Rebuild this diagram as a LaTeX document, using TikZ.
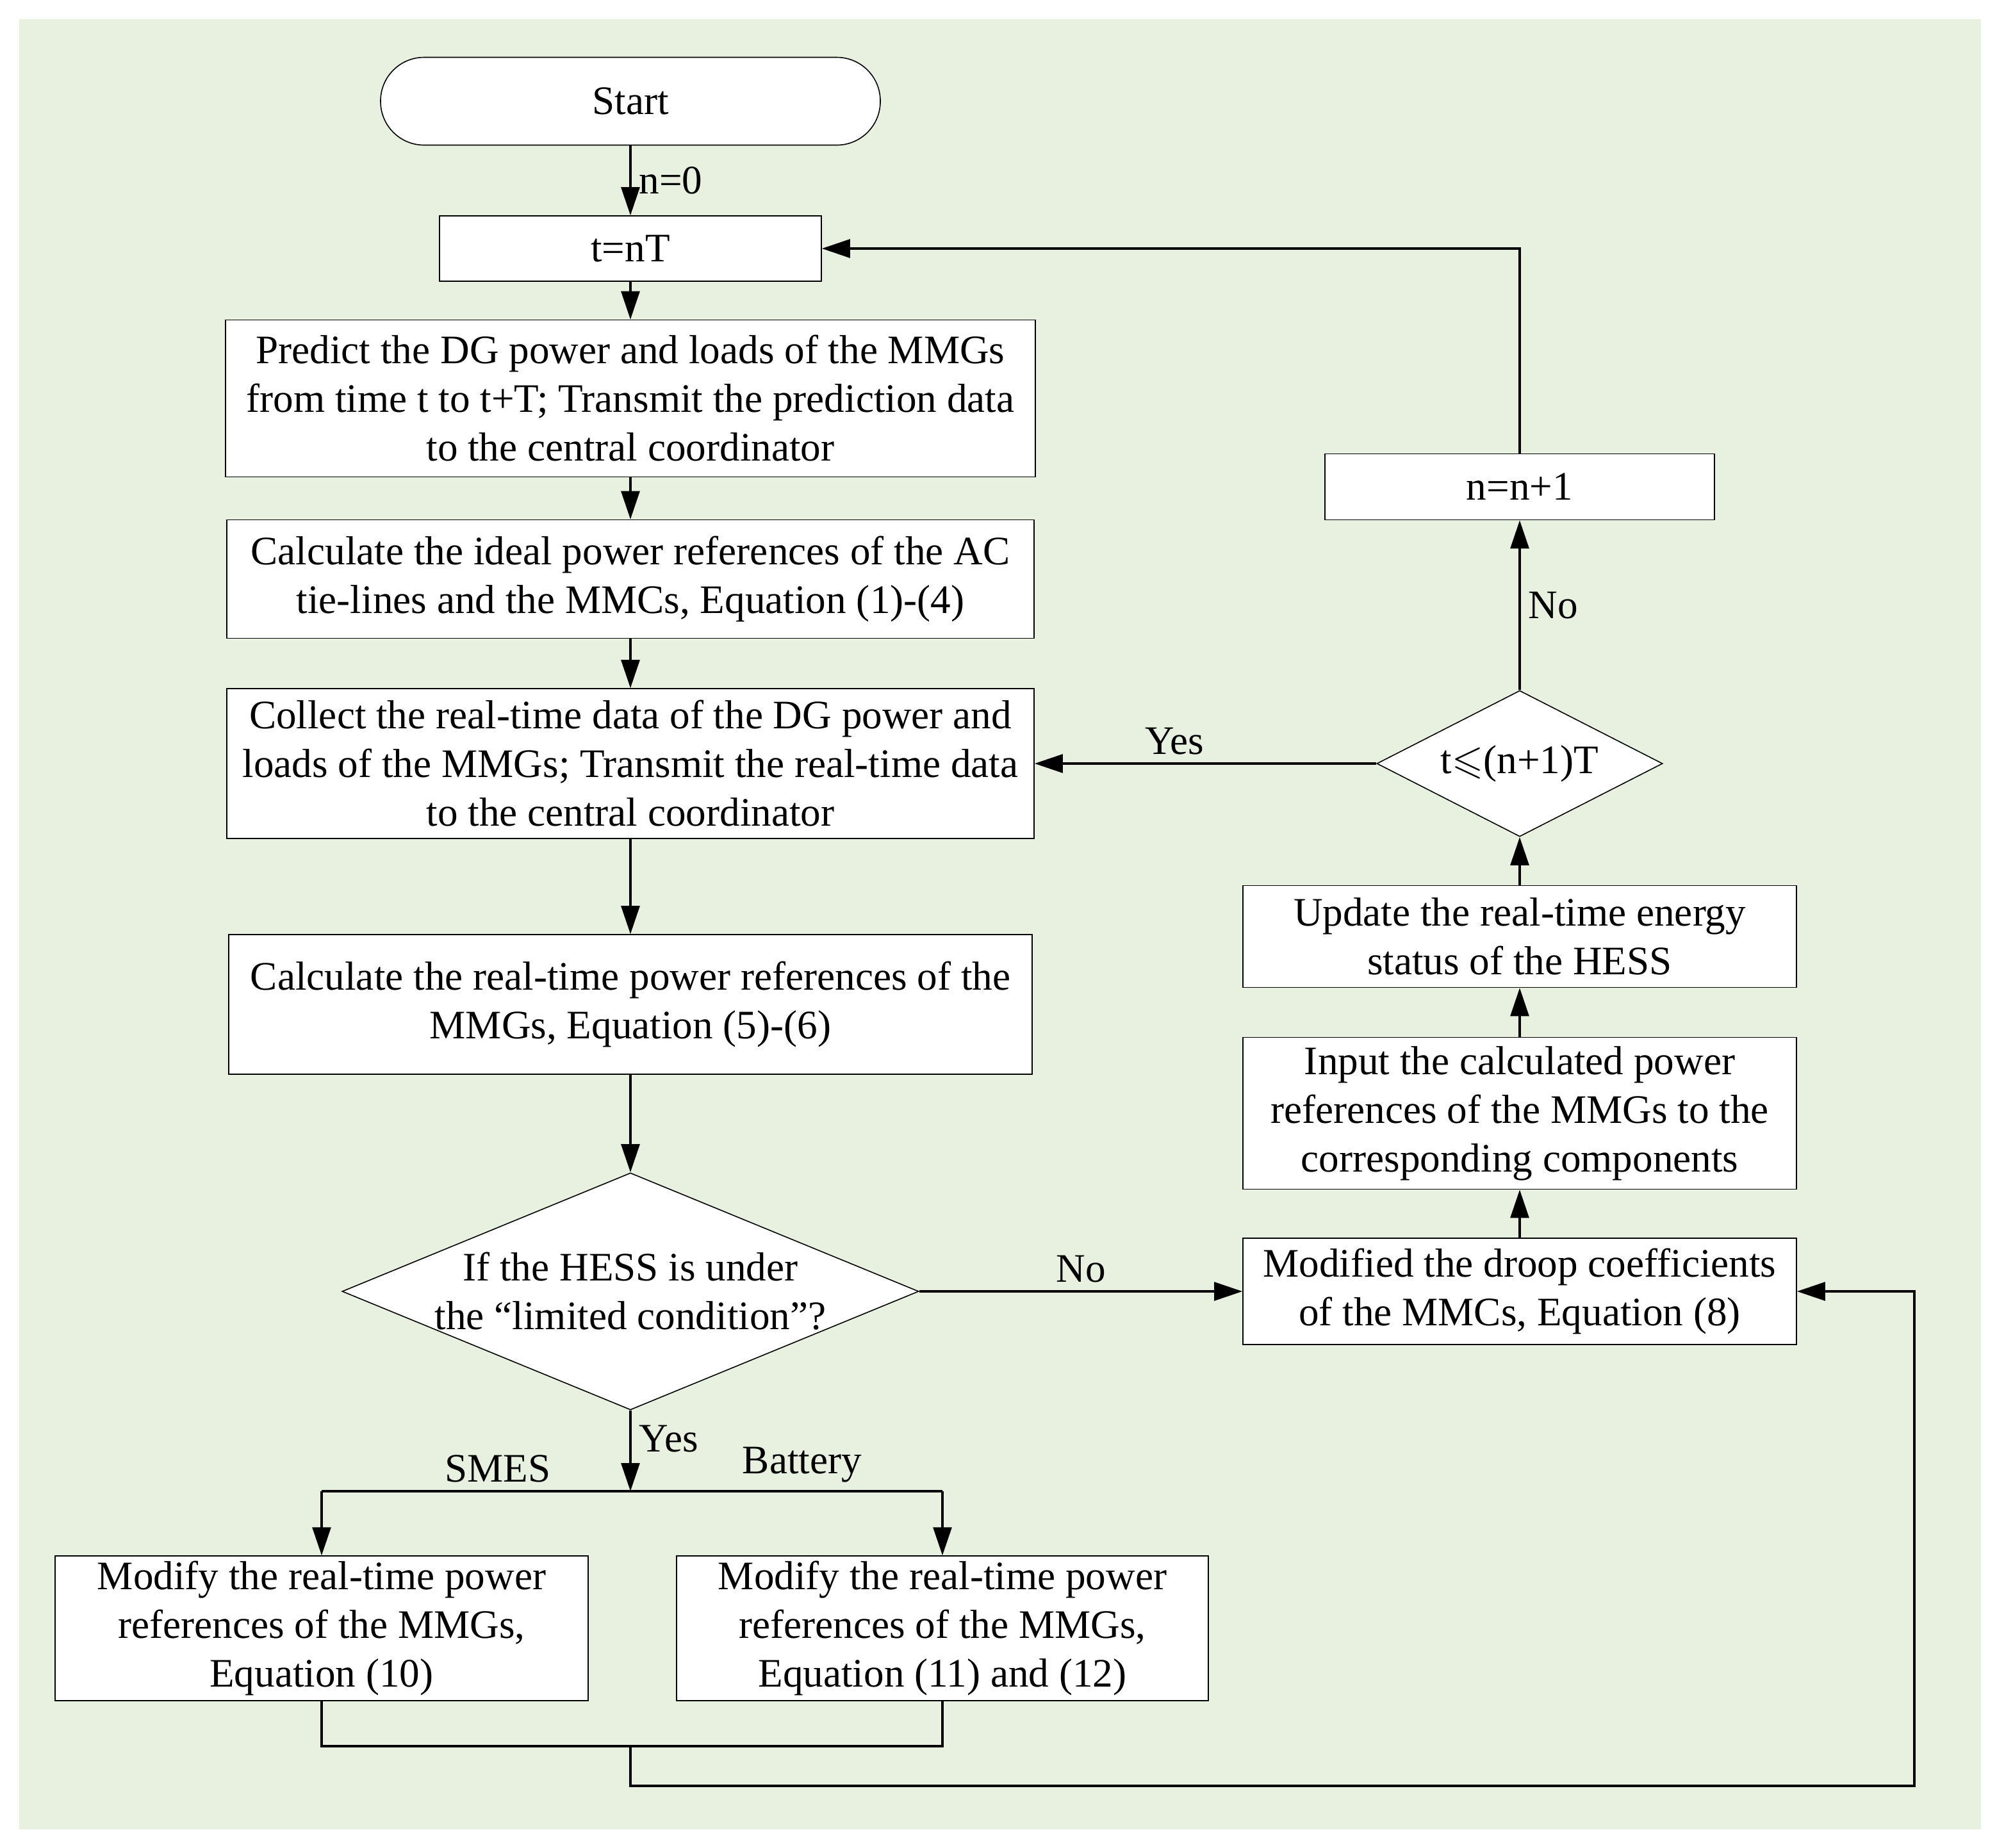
\documentclass[tikz,border=0pt]{standalone}
\usepackage{fontspec}
\setmainfont{Liberation Serif}
\usepackage{amssymb}
\usetikzlibrary{positioning, arrows.meta, shapes.geometric}
\definecolor{bggreen}{RGB}{232,240,224}

\begin{document}
\begin{tikzpicture}[x=0.5pt,y=-0.5pt]
		\tikzstyle{box} = [draw, line width=0.4pt, fill=white, align=center, inner sep=2pt, font=\fontsize{15.8}{19}\selectfont]
		\tikzstyle{decide} = [diamond, draw, line width=0.4pt, fill=white, inner sep=0pt]
		\tikzstyle{stealth} = [-{Triangle[length=11pt,width=7.2pt]}, line width=0.85pt]
		\tikzstyle{wire} = [line width=0.85pt]
		\tikzstyle{tag} = [font=\fontsize{15.8}{19}\selectfont, inner sep=3pt]
		% page and background
		\fill [white] (0,0) rectangle (1558.5,1442);
		\fill [bggreen] (15,15) rectangle (1546,1428);
		% left column
		\node [box, rounded corners=17pt, minimum width=195pt, minimum height=34.25pt] (v1) at (492,79) {Start};
		\node [box, minimum width=149pt, minimum height=25.5pt] (v2) at (492,194) {t=nT};
		\node [box, minimum width=316pt, minimum height=61.25pt] (v3) at (492,311) {Predict the DG power and loads of the MMGs\\from time t to t+T; Transmit the prediction data\\to the central coordinator};
		\node [box, minimum width=315pt, minimum height=46.25pt] (v4) at (492,452) {Calculate the ideal power references of the AC\\tie-lines and the MMCs, Equation (1)-(4)};
		\node [box, minimum width=315pt, minimum height=58.5pt] (v5) at (492,596) {Collect the real-time data of the DG power and\\loads of the MMGs; Transmit the real-time data\\to the central coordinator};
		\node [box, minimum width=313.5pt, minimum height=54.5pt] (v6) at (492,784) {Calculate the real-time power references of the\\MMGs, Equation (5)-(6)};
		\node [decide, minimum width=225pt, minimum height=92.5pt, label={[tag, align=center]center:If the HESS is under\\the “limited condition”?}] (v7) at (492,1008) {};
		\node [box, minimum width=208pt, minimum height=56pt] (v8) at (251,1271) {Modify the real-time power\\references of the MMGs,\\Equation (10)};
		\node [box, minimum width=207.5pt, minimum height=56pt] (v9) at (735.5,1271) {Modify the real-time power\\references of the MMGs,\\Equation (11) and (12)};
		% right column
		\node [box, minimum width=216pt, minimum height=41.5pt] (v10) at (1186,1008) {Modified the droop coefficients\\of the MMCs, Equation (8)};
		\node [box, minimum width=216pt, minimum height=59.25pt] (v11) at (1186,869) {Input the calculated power\\references of the MMGs to the\\corresponding components};
		\node [box, minimum width=216pt, minimum height=39.75pt] (v12) at (1186,731) {Update the real-time energy\\status of the HESS};
		\node [decide, minimum width=111.5pt, minimum height=57pt, label={[tag]center:t$\leqslant$(n+1)T}] (v13) at (1186,596) {};
		\node [box, minimum width=152pt, minimum height=25.75pt] (v14) at (1186,380) {n=n+1};
		% branch and merge points
		\coordinate (v15) at (492,1164);
		\coordinate (v16) at (251,1164);
		\coordinate (v17) at (735.5,1164);
		\coordinate (v18) at (251,1363);
		\coordinate (v19) at (735.5,1363);
		\coordinate (v20) at (492,1363);
		\coordinate (v21) at (1494,1394);
		% connectors
		\draw [stealth] (v1) -- node[tag, right] {n=0} (v2);
		\draw [stealth] (v2) -- (v3);
		\draw [stealth] (v3) -- (v4);
		\draw [stealth] (v4) -- (v5);
		\draw [stealth] (v5) -- (v6);
		\draw [stealth] (v6) -- (v7);
		\draw [stealth] (v7) -- node[tag, right, pos=0.35] {Yes} (v15);
		\draw [wire] (v15) -- node[tag, above, pos=0.43] {SMES} (v16);
		\draw [wire] (v15) -- node[tag, above, pos=0.55] {Battery} (v17);
		\draw [stealth] (v16) -- (v8);
		\draw [stealth] (v17) -- (v9);
		\draw [wire] (v8) -- (v18) -- (v19) -- (v9);
		\draw [stealth] (v20) |- (v21) |- (v10);
		\draw [stealth] (v7) -- node[tag, above] {No} (v10);
		\draw [stealth] (v10) -- (v11);
		\draw [stealth] (v11) -- (v12);
		\draw [stealth] (v12) -- (v13);
		\draw [stealth] (v13) -- node[tag, above, pos=0.59] {Yes} (v5);
		\draw [stealth] (v13) -- node[tag, right] {No} (v14);
		\draw [stealth] (v14) |- (v2);
\end{tikzpicture}
\end{document}
